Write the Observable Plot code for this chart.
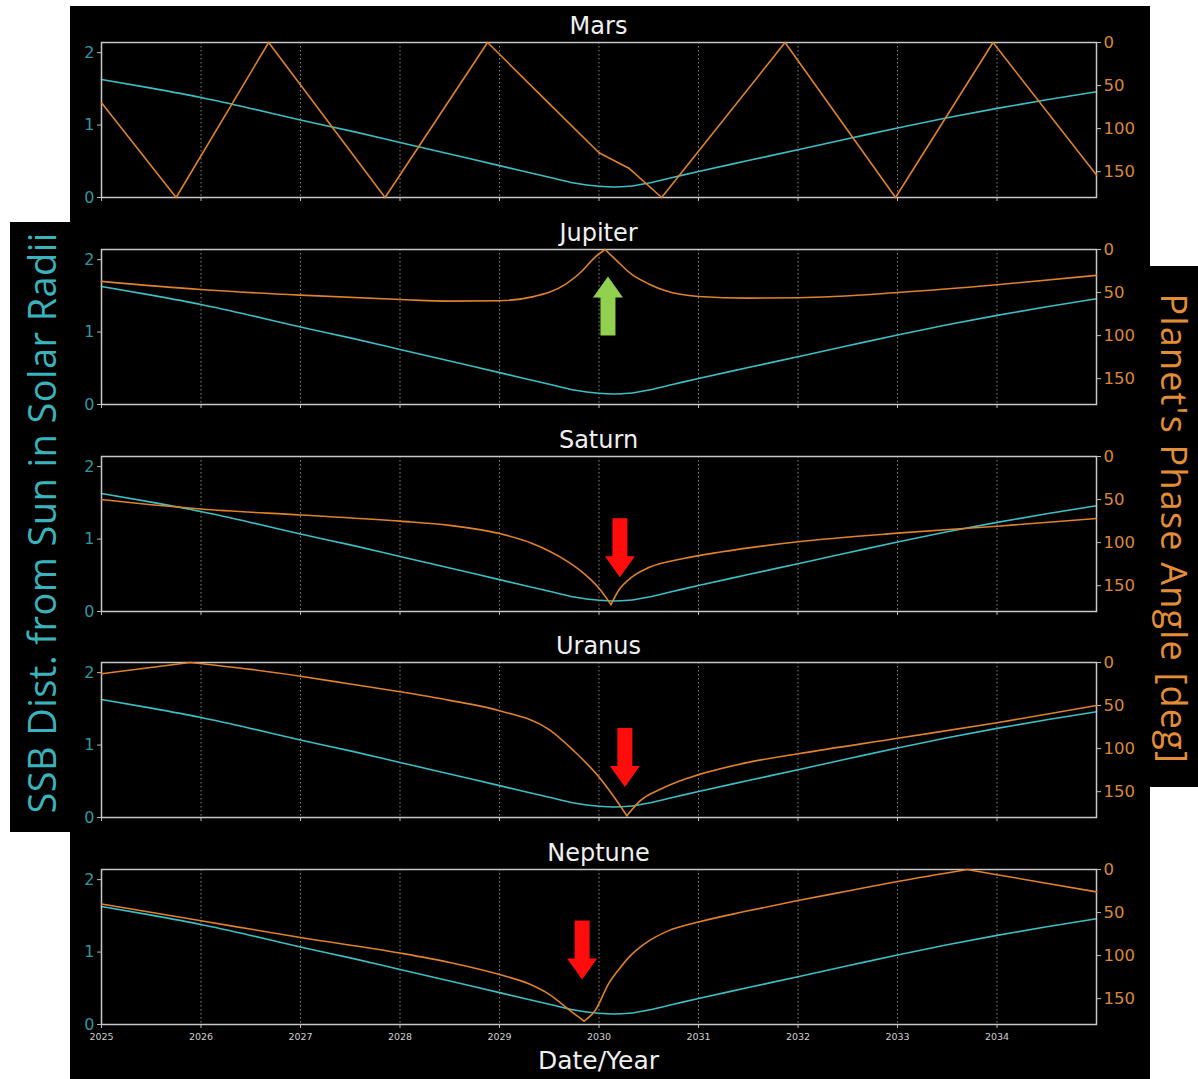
<!DOCTYPE html>
<html>
<head>
<meta charset="utf-8">
<script src="https://cdn.jsdelivr.net/npm/d3@7"></script>
<script src="https://cdn.jsdelivr.net/npm/@observablehq/plot@0.6"></script>
<style>
  html, body { margin: 0; padding: 0; background: #fff; }
  body { width: 1198px; height: 1079px; position: relative; overflow: hidden; font-family: "DejaVu Sans", sans-serif; }
  .blk { position: absolute; background: #000; }
  .title { position: absolute; left: 101px; width: 995px; text-align: center; color: #f0f0f0; font-size: 24px; line-height: 28px; }
  .ylab { position: absolute; white-space: nowrap; font-family: "Open Sans", sans-serif; transform-origin: center center; }
</style>
</head>
<body>
<div class="blk" style="left:70px;top:6px;width:1080px;height:1073px"></div>
<div class="blk" style="left:10px;top:222px;width:62px;height:610px"></div>
<div class="blk" style="left:1148px;top:266px;width:50px;height:521px"></div>
<div id="root"></div>
<script>
// ---------------- data ----------------
const planetNames = ["Mars", "Jupiter", "Saturn", "Uranus", "Neptune"];
const yearTicks = [2025, 2026, 2027, 2028, 2029, 2030, 2031, 2032, 2033, 2034];
const distTicks = [0, 1, 2];
const phaseTicks = [0, 50, 100, 150];

// SSB distance from Sun centre (solar radii)
const ssbYears = [2025.0, 2025.5, 2026.0, 2026.5, 2027.0, 2027.5, 2028.0, 2028.5, 2029.0, 2029.5, 2029.75, 2030.0, 2030.15, 2030.3, 2030.5, 2030.75, 2031.0, 2031.5, 2032.0, 2032.5, 2033.0, 2033.5, 2034.0, 2034.5, 2035.0];
const ssbDist  = [1.63, 1.51, 1.38, 1.23, 1.07, 0.92, 0.76, 0.60, 0.44, 0.28, 0.20, 0.155, 0.145, 0.155, 0.20, 0.28, 0.36, 0.51, 0.66, 0.81, 0.96, 1.10, 1.23, 1.35, 1.46];

// Phase angles (deg) per planet
const marsYears = [2025.0, 2025.75, 2026.68, 2027.85, 2028.88, 2029.5, 2030.0, 2030.3, 2030.63, 2031.87, 2032.98, 2033.96, 2035.0];
const marsPhase = [70, 180, 0, 180, 0, 71, 128, 146, 180, 0, 180, 0, 154];
const marsCusps = marsYears.slice();

const jupiterYears = [2025.0, 2026.0, 2027.0, 2028.0, 2028.5, 2029.0, 2029.33, 2029.67, 2029.83, 2029.95, 2030.06, 2030.17, 2030.33, 2030.5, 2030.67, 2031.0, 2031.5, 2032.0, 2033.0, 2034.0, 2035.0];
const jupiterPhase = [37, 46.5, 53, 58, 60, 59.5, 55, 40, 25, 10, 0, 12, 29, 40, 48, 54.5, 56.5, 56, 50, 41, 30];
const jupiterCusps = [2030.06];

const saturnYears = [2025.0, 2025.5, 2026.0, 2027.0, 2028.0, 2028.5, 2029.0, 2029.33, 2029.67, 2029.85, 2030.0, 2030.12, 2030.2, 2030.33, 2030.5, 2030.85, 2031.22, 2032.0, 2033.0, 2034.0, 2035.0];
const saturnPhase = [50, 56, 61, 68, 75, 80, 89.5, 101, 121, 136, 153, 172, 155, 140, 129, 118.5, 111, 99, 89, 81, 72];
const saturnCusps = [2030.12];

const uranusYears = [2025.0, 2025.89, 2026.5, 2027.0, 2027.5, 2028.0, 2028.5, 2029.0, 2029.5, 2029.75, 2030.0, 2030.15, 2030.28, 2030.41, 2030.64, 2030.9, 2031.5, 2032.0, 2033.0, 2034.0, 2035.0];
const uranusPhase = [13, 0, 8, 16, 25, 34, 44, 56, 78, 103, 133, 156, 178, 161, 146, 134, 116, 106, 88, 70, 50];
const uranusCusps = [2025.89, 2030.28];

const neptuneYears = [2025.0, 2026.0, 2027.0, 2028.0, 2028.5, 2029.0, 2029.3, 2029.5, 2029.7, 2029.85, 2029.96, 2030.1, 2030.2, 2030.3, 2030.45, 2030.7, 2031.0, 2031.5, 2032.0, 2032.5, 2033.0, 2033.7, 2034.0, 2035.0];
const neptunePhase = [40, 59.5, 79, 97, 108, 122, 133, 145, 163, 176, 164, 132, 116, 102, 87, 71, 61, 48, 36, 25, 14, 0, 6, 26];
const neptuneCusps = [2029.85, 2033.7];

// Annotation arrows
const arrowPlanet = ["Jupiter", "Saturn", "Uranus", "Neptune"];
const arrowYear = [2030.09, 2030.21, 2030.26, 2029.83];
const arrowDist = [1.36, 0.88, 0.83, 1.03];
const arrowDir = ["up", "down", "down", "down"];

// ---------------- build tables ----------------
const ssb = ssbYears.map((year, i) => ({year, dist: ssbDist[i]}));
function phaseTable(years, vals, cusps) {
  const segs = []; let cur = [];
  years.forEach((year, i) => {
    cur.push({year, deg: vals[i], seg: segs.length});
    if (cusps.includes(year) && i > 0 && i < years.length - 1) {
      segs.push(cur);
      cur = [{year, deg: vals[i], seg: segs.length}];
    }
  });
  segs.push(cur);
  return segs.flat();
}
const phaseData = {
  Mars: phaseTable(marsYears, marsPhase, marsCusps),
  Jupiter: phaseTable(jupiterYears, jupiterPhase, jupiterCusps),
  Saturn: phaseTable(saturnYears, saturnPhase, saturnCusps),
  Uranus: phaseTable(uranusYears, uranusPhase, uranusCusps),
  Neptune: phaseTable(neptuneYears, neptunePhase, neptuneCusps)
};
const arrows = arrowPlanet.map((planet, i) => ({planet, year: arrowYear[i], dist: arrowDist[i], dir: arrowDir[i]}));

// ---------------- styling ----------------
const TEAL = "#3cbec6";
const ORANGE = "#e0822c";
const TEAL_TXT = "#2f97a0";
const ORANGE_TXT = "#d9883a";
const FRAME = "#c8c8c8";

function fatArrow(s) { // s = -1 up, +1 down
  return {
    draw(ctx) {
      const L = 59, hl = 21, hw = 15, sw = 7.5;
      const tail = -s * L / 2, tip = s * L / 2, neck = tip - s * hl;
      ctx.moveTo(-sw, tail); ctx.lineTo(sw, tail); ctx.lineTo(sw, neck); ctx.lineTo(hw, neck);
      ctx.lineTo(0, tip); ctx.lineTo(-hw, neck); ctx.lineTo(-sw, neck); ctx.closePath();
    }
  };
}
const arrowUp = fatArrow(-1), arrowDown = fatArrow(1);

const root = document.getElementById("root");
const W = 1080, ML = 31, MR = 54, PH = 155;
const frameTops = [42, 249, 456, 662, 869];
const fontStyle = {background: "transparent", color: "#ddd", fontFamily: "DejaVu Sans, sans-serif", overflow: "visible"};

planetNames.forEach((name, i) => {
  const last = i === planetNames.length - 1;
  const mt = 10, mb = last ? 26 : 8;
  const H = PH + mt + mb;
  const top = frameTops[i] - mt;
  const xs = {type: "linear", domain: [2025, 2035], axis: null};
  const here = arrows.filter(a => a.planet === name);

  const base = Plot.plot({
    width: W, height: H, marginLeft: ML, marginRight: MR, marginTop: mt, marginBottom: mb,
    style: fontStyle,
    x: xs,
    y: {domain: [0, 2.14], axis: null},
    marks: [
      Plot.gridX(yearTicks, {stroke: "#d8d8d8", strokeOpacity: 0.7, strokeWidth: 0.9, strokeDasharray: "1.5,2.5"}),
      Plot.axisX(yearTicks, {anchor: "bottom", tickSize: 4, tickPadding: 5, stroke: "#bbb", fill: last ? "#d0d0d0" : "none", fontSize: 9.5, label: null, tickFormat: d => String(d)}),
      Plot.axisY(distTicks, {anchor: "left", tickSize: 4, tickPadding: 3, stroke: "#bbb", fill: TEAL_TXT, fontSize: 16, label: null, tickFormat: d => String(d)}),
      Plot.line(ssb, {x: "year", y: "dist", stroke: TEAL, strokeWidth: 1.6, curve: "monotone-x"}),
      Plot.dot(here.filter(a => a.dir === "up"), {x: "year", y: "dist", symbol: arrowUp, r: 10, fill: "#92d050"}),
      Plot.dot(here.filter(a => a.dir === "down"), {x: "year", y: "dist", symbol: arrowDown, r: 10, fill: "#ff0d0d"}),
      Plot.frame({stroke: FRAME, strokeWidth: 1.5})
    ]
  });
  base.style.position = "absolute"; base.style.left = "70px"; base.style.top = top + "px";
  root.appendChild(base);

  const over = Plot.plot({
    width: W, height: H, marginLeft: ML, marginRight: MR, marginTop: mt, marginBottom: mb,
    style: fontStyle,
    x: xs,
    y: {domain: [0, 180], reverse: true, axis: null},
    marks: [
      Plot.axisY(phaseTicks, {anchor: "right", tickSize: 4, tickPadding: 3, stroke: "#bbb", fill: ORANGE_TXT, fontSize: 16.5, label: null, tickFormat: d => String(d)}),
      Plot.line(phaseData[name], {x: "year", y: "deg", z: "seg", stroke: ORANGE, strokeWidth: 1.6, curve: name === "Mars" ? "linear" : "monotone-x"})
    ]
  });
  over.style.position = "absolute"; over.style.left = "70px"; over.style.top = top + "px";
  root.appendChild(over);

  const t = document.createElement("div");
  t.className = "title";
  t.style.top = (frameTops[i] - 30) + "px";
  t.textContent = name;
  root.appendChild(t);
});

const xl = document.createElement("div");
xl.className = "title";
xl.style.top = "1046px"; xl.style.fontSize = "25px"; xl.style.lineHeight = "30px";
xl.textContent = "Date/Year";
root.appendChild(xl);

function sideLabel(text, color, size, spacing, cx, cy, angle) {
  const el = document.createElement("div");
  el.className = "ylab";
  el.style.color = color; el.style.fontSize = size + "px"; el.style.lineHeight = (size * 1.15) + "px";
  el.style.letterSpacing = spacing + "px";
  el.textContent = text;
  root.appendChild(el);
  const w = el.offsetWidth, h = el.offsetHeight;
  el.style.left = (cx - w / 2) + "px"; el.style.top = (cy - h / 2) + "px";
  el.style.transform = "rotate(" + angle + "deg)";
}
sideLabel("SSB Dist. from Sun in Solar Radii", "#3ab3bc", 38, 0.4, 41, 523, -90);
sideLabel("Planet's Phase Angle [deg]", "#e38d36", 36, 1.2, 1174, 528, 90);
</script>
</body>
</html>
